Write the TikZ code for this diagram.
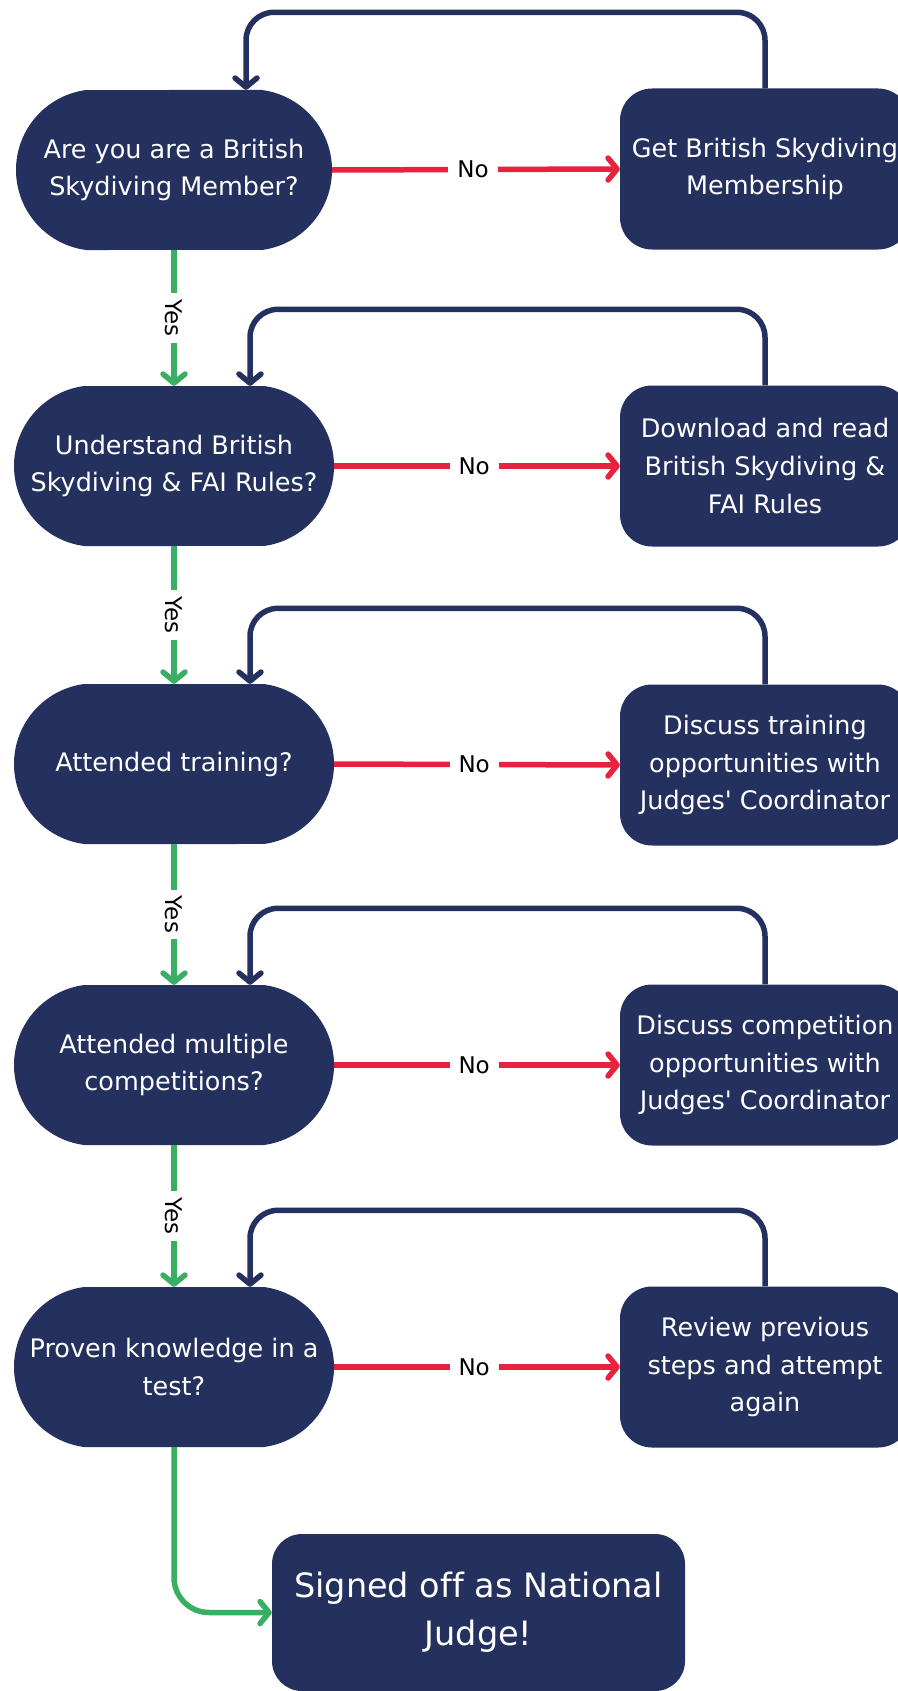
\documentclass[tikz,border=0pt]{standalone}
\usepackage{fontspec}
\setmainfont{DejaVu Sans}[Ligatures={TeXOff,CommonOff}]
\usetikzlibrary{shapes.misc,arrows.meta,calc}
\definecolor{navy}{HTML}{24305E}
\definecolor{nored}{HTML}{E8213F}
\definecolor{yesgreen}{HTML}{3AAE63}
\tikzset{
  pill/.style={rounded rectangle, rounded rectangle arc length=165, fill=navy, text=white,
    minimum width=320pt, minimum height=160pt, inner sep=0pt, align=center,
    font=\fontsize{25.5}{37.7}\selectfont},
  actbox/.style={rectangle, rounded corners=32pt, fill=navy, text=white,
    minimum width=290pt, minimum height=161pt, inner sep=0pt, align=center,
    font=\fontsize{25.5}{37.7}\selectfont},
  finalbox/.style={rectangle, rounded corners=30pt, fill=navy, text=white,
    minimum width=413pt, minimum height=157pt, inner sep=0pt, align=center,
    font=\fontsize{33.5}{48}\selectfont},
  tipped/.style={line width=5.5pt, -{Straight Barb[length=9pt,width=22pt,round]}},
  noline/.style={tipped, draw=nored},
  yesline/.style={tipped, draw=yesgreen},
  backline/.style={tipped, draw=navy, rounded corners=28pt},
  lbl/.style={fill=white, text=black, inner xsep=9pt, inner ysep=3pt,
    font=\fontsize{23}{26}\selectfont},
}
\begin{document}
\begin{tikzpicture}[x=1pt,y=-1pt]
\useasboundingbox (0,0) rectangle (897,1691);
\fill[white] (0,0) rectangle (897,1691);

\node[pill, minimum width=316pt] (p1) at (174,170) {Are you are a British\\Skydiving Member?};
\node[pill] (p2) at (174,466) {Understand British\\Skydiving \& FAI Rules?};
\node[pill] (p3) at (174,764) {Attended training?};
\node[pill] (p4) at (174,1065) {Attended multiple\\competitions?};
\node[pill] (p5) at (174,1367) {Proven knowledge in a\\test?};

\node[actbox] (b1) at (765,169) {Get British Skydiving\\Membership};
\node[actbox] (b2) at (765,466) {Download and read\\British Skydiving \&\\FAI Rules};
\node[actbox] (b3) at (765,765) {Discuss training\\opportunities with\\Judges' Coordinator};
\node[actbox] (b4) at (765,1065) {Discuss competition\\opportunities with\\Judges' Coordinator};
\node[actbox] (b5) at (765,1367) {Review previous\\steps and attempt\\again};

\node[finalbox] (f) at (478.5,1612.5) {Signed off as National\\Judge!};

\foreach \i/\dx in {1/72,2/76,3/76,4/76,5/76}{
  \draw[noline] (p\i.east) -- node[lbl, pos=0.49] {No} (b\i.west);
  \draw[backline] (b\i.north) -- ++(0,-76) -| ([xshift=\dx pt]p\i.north);
}
\foreach \i/\j in {1/2,2/3,3/4,4/5}{
  \draw[yesline] (p\i.south) -- node[lbl, rotate=-90, inner ysep=0pt, inner xsep=6pt] {Yes} (p\j.north);
}
\draw[yesline, rounded corners=35pt] (p5.south) |- (f.west);
\end{tikzpicture}
\end{document}
